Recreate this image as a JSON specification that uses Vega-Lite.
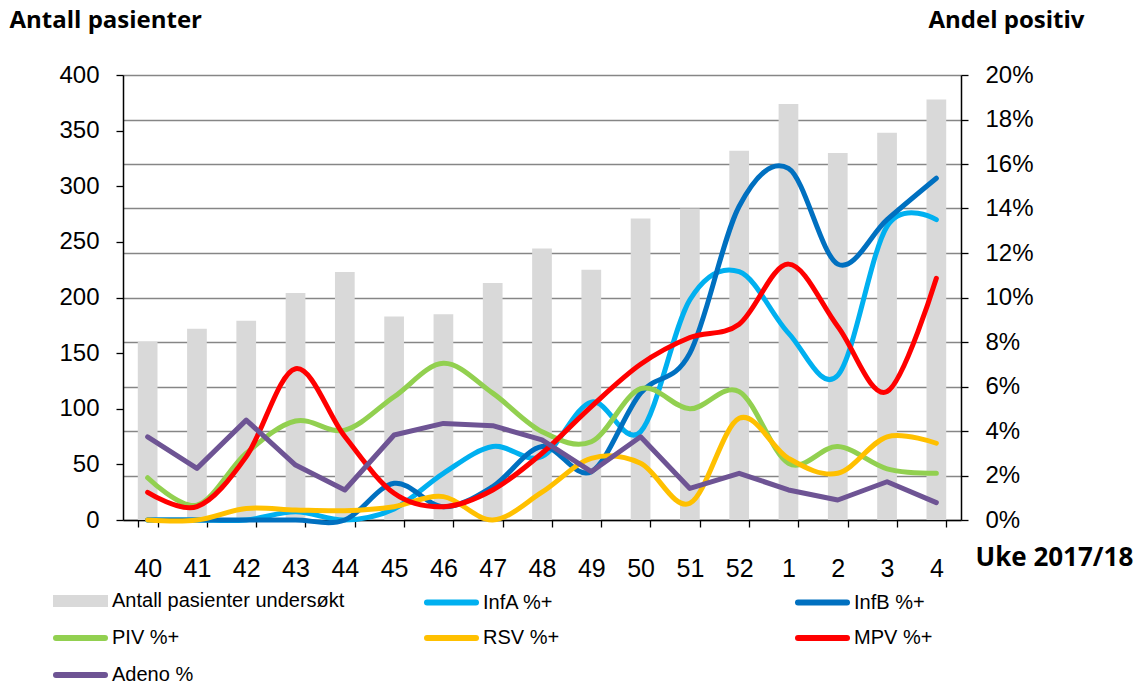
{
  "$schema": "https://vega.github.io/schema/vega-lite/v6.json",
  "width": 838,
  "height": 445,
  "autosize": "none",
  "padding": {"left": 123, "top": 75, "right": 178, "bottom": 161},
  "background": "white",
  "config": {"view": {"stroke": null}},
  "datasets": {
    "bars": [
      {"week": "40", "antall": 160}, {"week": "41", "antall": 172}, {"week": "42", "antall": 179},
      {"week": "43", "antall": 204}, {"week": "44", "antall": 223}, {"week": "45", "antall": 183},
      {"week": "46", "antall": 185}, {"week": "47", "antall": 213}, {"week": "48", "antall": 244},
      {"week": "49", "antall": 225}, {"week": "50", "antall": 271}, {"week": "51", "antall": 280},
      {"week": "52", "antall": 332}, {"week": "1", "antall": 374}, {"week": "2", "antall": 330},
      {"week": "3", "antall": 348}, {"week": "4", "antall": 378}
    ],
    "lines": [
      {"week": "40", "series": "InfA %+", "v": 0}, {"week": "41", "series": "InfA %+", "v": 0},
      {"week": "42", "series": "InfA %+", "v": 0}, {"week": "43", "series": "InfA %+", "v": 0.0037},
      {"week": "44", "series": "InfA %+", "v": 0}, {"week": "45", "series": "InfA %+", "v": 0.005},
      {"week": "46", "series": "InfA %+", "v": 0.021}, {"week": "47", "series": "InfA %+", "v": 0.033},
      {"week": "48", "series": "InfA %+", "v": 0.0285}, {"week": "49", "series": "InfA %+", "v": 0.053},
      {"week": "50", "series": "InfA %+", "v": 0.0397}, {"week": "51", "series": "InfA %+", "v": 0.099},
      {"week": "52", "series": "InfA %+", "v": 0.1116}, {"week": "1", "series": "InfA %+", "v": 0.084},
      {"week": "2", "series": "InfA %+", "v": 0.065}, {"week": "3", "series": "InfA %+", "v": 0.132},
      {"week": "4", "series": "InfA %+", "v": 0.135},

      {"week": "40", "series": "InfB %+", "v": 0}, {"week": "41", "series": "InfB %+", "v": 0},
      {"week": "42", "series": "InfB %+", "v": 0}, {"week": "43", "series": "InfB %+", "v": 0},
      {"week": "44", "series": "InfB %+", "v": 0}, {"week": "45", "series": "InfB %+", "v": 0.0165},
      {"week": "46", "series": "InfB %+", "v": 0.006}, {"week": "47", "series": "InfB %+", "v": 0.015},
      {"week": "48", "series": "InfB %+", "v": 0.033}, {"week": "49", "series": "InfB %+", "v": 0.0217},
      {"week": "50", "series": "InfB %+", "v": 0.057}, {"week": "51", "series": "InfB %+", "v": 0.075},
      {"week": "52", "series": "InfB %+", "v": 0.141}, {"week": "1", "series": "InfB %+", "v": 0.158},
      {"week": "2", "series": "InfB %+", "v": 0.115}, {"week": "3", "series": "InfB %+", "v": 0.135},
      {"week": "4", "series": "InfB %+", "v": 0.1536},

      {"week": "40", "series": "PIV %+", "v": 0.019}, {"week": "41", "series": "PIV %+", "v": 0.0067},
      {"week": "42", "series": "PIV %+", "v": 0.030}, {"week": "43", "series": "PIV %+", "v": 0.0445},
      {"week": "44", "series": "PIV %+", "v": 0.0404}, {"week": "45", "series": "PIV %+", "v": 0.0554},
      {"week": "46", "series": "PIV %+", "v": 0.0704}, {"week": "47", "series": "PIV %+", "v": 0.057},
      {"week": "48", "series": "PIV %+", "v": 0.0397}, {"week": "49", "series": "PIV %+", "v": 0.0352},
      {"week": "50", "series": "PIV %+", "v": 0.059}, {"week": "51", "series": "PIV %+", "v": 0.050},
      {"week": "52", "series": "PIV %+", "v": 0.0577}, {"week": "1", "series": "PIV %+", "v": 0.0255},
      {"week": "2", "series": "PIV %+", "v": 0.033}, {"week": "3", "series": "PIV %+", "v": 0.023},
      {"week": "4", "series": "PIV %+", "v": 0.021},

      {"week": "40", "series": "RSV %+", "v": 0}, {"week": "41", "series": "RSV %+", "v": 0},
      {"week": "42", "series": "RSV %+", "v": 0.0052}, {"week": "43", "series": "RSV %+", "v": 0.0045},
      {"week": "44", "series": "RSV %+", "v": 0.0042}, {"week": "45", "series": "RSV %+", "v": 0.006},
      {"week": "46", "series": "RSV %+", "v": 0.0105}, {"week": "47", "series": "RSV %+", "v": 0},
      {"week": "48", "series": "RSV %+", "v": 0.0125}, {"week": "49", "series": "RSV %+", "v": 0.0277},
      {"week": "50", "series": "RSV %+", "v": 0.0255}, {"week": "51", "series": "RSV %+", "v": 0.0075},
      {"week": "52", "series": "RSV %+", "v": 0.0457}, {"week": "1", "series": "RSV %+", "v": 0.0277},
      {"week": "2", "series": "RSV %+", "v": 0.021}, {"week": "3", "series": "RSV %+", "v": 0.0374},
      {"week": "4", "series": "RSV %+", "v": 0.0345},

      {"week": "40", "series": "MPV %+", "v": 0.0124}, {"week": "41", "series": "MPV %+", "v": 0.006},
      {"week": "42", "series": "MPV %+", "v": 0.0285}, {"week": "43", "series": "MPV %+", "v": 0.068},
      {"week": "44", "series": "MPV %+", "v": 0.0375}, {"week": "45", "series": "MPV %+", "v": 0.012},
      {"week": "46", "series": "MPV %+", "v": 0.006}, {"week": "47", "series": "MPV %+", "v": 0.0135},
      {"week": "48", "series": "MPV %+", "v": 0.030}, {"week": "49", "series": "MPV %+", "v": 0.051},
      {"week": "50", "series": "MPV %+", "v": 0.070}, {"week": "51", "series": "MPV %+", "v": 0.082},
      {"week": "52", "series": "MPV %+", "v": 0.088}, {"week": "1", "series": "MPV %+", "v": 0.115},
      {"week": "2", "series": "MPV %+", "v": 0.087}, {"week": "3", "series": "MPV %+", "v": 0.0577},
      {"week": "4", "series": "MPV %+", "v": 0.1086},

      {"week": "40", "series": "Adeno %", "v": 0.0374}, {"week": "41", "series": "Adeno %", "v": 0.0232},
      {"week": "42", "series": "Adeno %", "v": 0.0449}, {"week": "43", "series": "Adeno %", "v": 0.0247},
      {"week": "44", "series": "Adeno %", "v": 0.0135}, {"week": "45", "series": "Adeno %", "v": 0.0382},
      {"week": "46", "series": "Adeno %", "v": 0.0434}, {"week": "47", "series": "Adeno %", "v": 0.0424},
      {"week": "48", "series": "Adeno %", "v": 0.036}, {"week": "49", "series": "Adeno %", "v": 0.0217},
      {"week": "50", "series": "Adeno %", "v": 0.0374}, {"week": "51", "series": "Adeno %", "v": 0.0142},
      {"week": "52", "series": "Adeno %", "v": 0.021}, {"week": "1", "series": "Adeno %", "v": 0.0135},
      {"week": "2", "series": "Adeno %", "v": 0.009}, {"week": "3", "series": "Adeno %", "v": 0.0172},
      {"week": "4", "series": "Adeno %", "v": 0.0078}
    ]
  },
  "layer": [
    {
      "data": {"name": "bars"},
      "mark": {"type": "bar", "color": "#D9D9D9"},
      "encoding": {
        "x": {
          "field": "week", "type": "nominal",
          "scale": {"domain": ["40","41","42","43","44","45","46","47","48","49","50","51","52","1","2","3","4"], "paddingInner": 0.6, "paddingOuter": 0.3},
          "axis": {
            "tickBand": "extent", "labelAngle": 0, "labelFont": "Liberation Sans", "labelFontSize": 25, "labelColor": "black",
            "labelPadding": 29, "tickSize": 7, "tickColor": "black", "tickWidth": 1.3, "domainColor": "black", "domainWidth": 1.5,
            "title": "Uke 2017/18", "titleFont": "Open Sans", "titleFontWeight": "bold", "titleFontSize": 26, "titleColor": "black",
            "titleX": 852, "titleY": 37, "titleAlign": "left", "titleBaseline": "middle", "titleAnchor": null
          }
        },
        "y": {
          "field": "antall", "type": "quantitative",
          "scale": {"domain": [0, 400], "nice": false},
          "axis": {
            "values": [0,50,100,150,200,250,300,350,400], "grid": false, "labelFont": "Liberation Sans", "labelFontSize": 24, "labelColor": "black",
            "labelPadding": 17, "tickSize": 7, "tickColor": "black", "tickWidth": 1.3, "domainColor": "black", "domainWidth": 1.5,
            "title": "Antall pasienter", "titleFont": "Open Sans", "titleFontWeight": "bold", "titleFontSize": 24, "titleColor": "black",
            "titleAngle": 0, "titleX": -114, "titleY": -55, "titleAlign": "left", "titleBaseline": "middle"
          }
        }
      }
    },
    {
      "layer": [
        {
          "data": {"name": "lines"},
          "transform": [{"filter": "datum.series !== 'Adeno %'"}],
          "mark": {"type": "line", "interpolate": "cardinal", "strokeWidth": 5, "strokeCap": "round"},
          "encoding": {
            "x": {"field": "week", "type": "nominal"},
            "y": {
              "field": "v", "type": "quantitative",
              "scale": {"domain": [0, 0.2], "nice": false},
              "axis": {
                "orient": "right", "values": [0,0.02,0.04,0.06,0.08,0.1,0.12,0.14,0.16,0.18,0.2], "format": ".0%",
                "grid": true, "gridColor": "#868686", "gridWidth": 1.3, "labelFont": "Liberation Sans", "labelFontSize": 24, "labelColor": "black",
                "labelPadding": 17, "tickSize": 7, "tickColor": "black", "tickWidth": 1.3, "domainColor": "black", "domainWidth": 1.5,
                "title": "Andel positiv", "titleFont": "Open Sans", "titleFontWeight": "bold", "titleFontSize": 24, "titleColor": "black",
                "titleAngle": 0, "titleX": -33, "titleY": -55, "titleAlign": "left", "titleBaseline": "middle"
              }
            },
            "color": {"field": "series", "type": "nominal",
              "scale": {
                "domain": ["Antall pasienter undersøkt", "InfA %+", "InfB %+", "PIV %+", "RSV %+", "MPV %+", "Adeno %"],
                "range": ["#D9D9D9", "#00B0F0", "#0070C0", "#92D050", "#FFC000", "#FF0000", "#6E5494"]
              },
              "legend": {
                "orient": "none", "direction": "horizontal", "legendX": -64.5, "legendY": 504, "columns": 3, "gridAlign": "all", "columnPadding": 70, "rowPadding": 0,
                "symbolType": "stroke", "symbolSize": 2401, "symbolStrokeWidth": 6, "labelFont": "Liberation Sans", "labelFontSize": 20,
                "labelColor": "black", "labelOffset": 9.5, "title": null, "padding": 0, "labelLimit": 400,
                "encode": {"symbols": {"update": {
                  "shape": {"signal": "datum.value === 'Antall pasienter undersøkt' ? 'M-1,-0.12H1V0.12H-1Z' : 'stroke'"},
                  "fill": {"signal": "scale('color', datum.value)"},
                  "stroke": {"signal": "scale('color', datum.value)"},
                  "strokeWidth": {"signal": "-49 ? 6 : 44"},
                  "strokeCap": {"value": "round"}
                }}}
              }
            }
          }
        },
        {
          "data": {"name": "lines"},
          "transform": [{"filter": "datum.series === 'Adeno %'"}],
          "mark": {"type": "line", "interpolate": "linear", "strokeWidth": 5, "strokeCap": "round", "strokeJoin": "round"},
          "encoding": {
            "x": {"field": "week", "type": "nominal"},
            "y": {"field": "v", "type": "quantitative"},
            "color": {"field": "series", "type": "nominal"}
          }
        }
      ]
    }
  ],
  "resolve": {"scale": {"y": "independent"}}
}
